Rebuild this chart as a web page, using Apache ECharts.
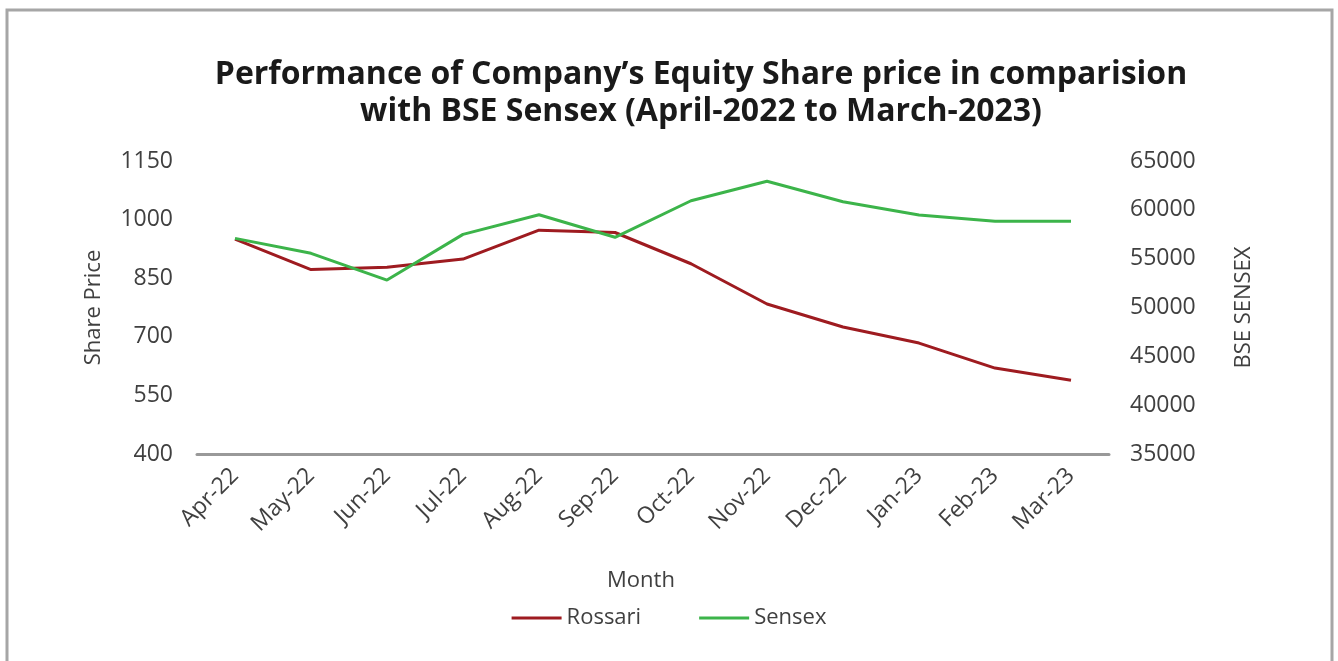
<!DOCTYPE html>
<html>
<head>
<meta charset="utf-8">
<script src="https://cdn.jsdelivr.net/npm/echarts@6/dist/echarts.min.js"></script>
<style>
  html, body { margin: 0; padding: 0; background: #fff; }
  #main { width: 1338px; height: 661px; }
</style>
</head>
<body>
<div id="main"></div>
<script>
// 月份
var months = ['Apr-22', 'May-22', 'Jun-22', 'Jul-22', 'Aug-22', 'Sep-22',
              'Oct-22', 'Nov-22', 'Dec-22', 'Jan-23', 'Feb-23', 'Mar-23'];
// 公司股价
var rossari = [950, 872, 878, 899, 973, 967, 887, 784, 725, 684, 620, 589];
// BSE Sensex
var sensex = [57080, 55550, 52810, 57490, 59500, 57190, 60930, 62920, 60830, 59470, 58830, 58830];

var textColor = '#404040';
var fontName = 'Open Sans';

// 去掉千位分隔符
function plain(v) {
    return String(v);
}

var chart = echarts.init(document.getElementById('main'));
var option = {
    backgroundColor: '#fff',
    animation: false,
    graphic: [{
        type: 'rect',
        shape: { x: 7, y: 10, width: 1325, height: 700 },
        style: { fill: 'none', stroke: '#a6a6a6', lineWidth: 3 },
        silent: true
    }],
    title: {
        text: 'Performance of Company\u2019s Equity Share price in comparision\nwith BSE Sensex (April-2022 to March-2023)',
        left: 696,
        top: 51,
        textAlign: 'center',
        textStyle: {
            fontFamily: fontName,
            fontSize: 32,
            fontWeight: 'bold',
            lineHeight: 37,
            color: '#1a1a1a'
        }
    },
    legend: {
        data: ['Rossari', 'Sensex'],
        left: 'center',
        top: 602,
        icon: 'rect',
        itemWidth: 50,
        itemHeight: 3,
        itemGap: 58,
        textStyle: { fontFamily: fontName, fontSize: 22, color: textColor }
    },
    grid: {
        left: 197,
        right: 229,
        top: 161,
        bottom: 207,
        containLabel: false
    },
    xAxis: {
        type: 'category',
        data: months,
        boundaryGap: true,
        name: 'Month',
        nameLocation: 'middle',
        nameGap: 116,
        nameTextStyle: { fontFamily: fontName, fontSize: 22, color: textColor, padding: [0, 24, 0, 0] },
        axisLine: { lineStyle: { color: '#999', width: 3 } },
        axisTick: { show: false },
        axisLabel: {
            rotate: 45,
            margin: 18,
            fontFamily: fontName,
            fontSize: 23,
            color: textColor
        }
    },
    yAxis: [{
        type: 'value',
        min: 400,
        max: 1150,
        interval: 150,
        name: 'Share Price',
        nameLocation: 'middle',
        nameRotate: 90,
        nameGap: 92,
        nameTextStyle: { fontFamily: fontName, fontSize: 22, color: textColor },
        axisLine: { show: false },
        axisTick: { show: false },
        splitLine: { show: false },
        axisLabel: { margin: 24, fontFamily: fontName, fontSize: 23, color: textColor, formatter: plain }
    }, {
        type: 'value',
        min: 35000,
        max: 65000,
        interval: 5000,
        name: 'BSE SENSEX',
        nameLocation: 'middle',
        nameRotate: 90,
        nameGap: 124,
        nameTextStyle: { fontFamily: fontName, fontSize: 22, color: textColor },
        axisLine: { show: false },
        axisTick: { show: false },
        splitLine: { show: false },
        axisLabel: { margin: 21, fontFamily: fontName, fontSize: 23, color: textColor, formatter: plain }
    }],
    series: [{
        name: 'Rossari',
        type: 'line',
        yAxisIndex: 0,
        data: rossari,
        showSymbol: false,
        itemStyle: { color: '#9e1b20' },
        lineStyle: { color: '#9e1b20', width: 3 }
    }, {
        name: 'Sensex',
        type: 'line',
        yAxisIndex: 1,
        data: sensex,
        showSymbol: false,
        itemStyle: { color: '#3cb44a' },
        lineStyle: { color: '#3cb44a', width: 3 }
    }]
};
chart.setOption(option);
</script>
</body>
</html>
